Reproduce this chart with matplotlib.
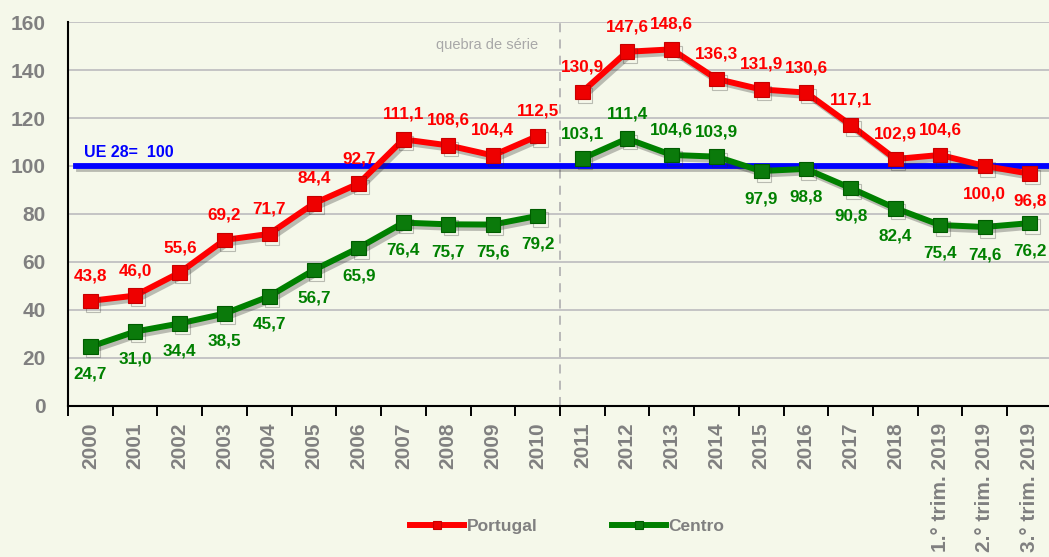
import matplotlib.pyplot as plt
import matplotlib.patheffects as pe
import numpy as np

plt.rcParams['font.family'] = ['Liberation Sans', 'DejaVu Sans']

# <====== data ======>
periods = ['2000', '2001', '2002', '2003', '2004', '2005', '2006', '2007',
           '2008', '2009', '2010', '2011', '2012', '2013', '2014', '2015',
           '2016', '2017', '2018', '1.° trim. 2019', '2.° trim. 2019',
           '3.° trim. 2019']
portugal = [43.8, 46.0, 55.6, 69.2, 71.7, 84.4, 92.7, 111.1, 108.6, 104.4,
            112.5, 130.9, 147.6, 148.6, 136.3, 131.9, 130.6, 117.1, 102.9,
            104.6, 100.0, 96.8]
centro = [24.7, 31.0, 34.4, 38.5, 45.7, 56.7, 65.9, 76.4, 75.7, 75.6,
          79.2, 103.1, 111.4, 104.6, 103.9, 97.9, 98.8, 90.8, 82.4,
          75.4, 74.6, 76.2]
ue28 = 100
break_after = 10  # series break between 2010 and 2011

bg = '#f5f8ea'
grey = '#808080'

fig = plt.figure(figsize=(10.49, 5.57), dpi=100, facecolor=bg)
ax = fig.add_axes([0.0648, 0.2711, 0.938, 0.6894], facecolor=bg)

x = np.arange(len(periods))
shadow = [pe.SimpleLineShadow(offset=(2, -2.5), alpha=0.3, shadow_color='#303030'),
          pe.Normal()]

# <====== reference line ======>
ax.axhline(ue28, xmin=0.008, xmax=1, color='#0000ff', lw=4.2, zorder=3,
           path_effects=shadow)
ax.text(-0.15, ue28 + 2.5, 'UE 28=  %d' % ue28, color='#0000ff',
        fontsize=11.5, fontweight='bold', va='bottom', ha='left')

# <====== series ======>
series = [
    ('Portugal', portugal, '#ff0000', '#ee0000', '#c80000'),
    ('Centro', centro, '#008000', '#0b7a0b', '#005c00'),
]
for name, vals, col, face, edge in series:
    vals = np.array(vals)
    for seg in (slice(0, break_after + 1), slice(break_after + 1, None)):
        ax.plot(x[seg], vals[seg], color=col, lw=4.3, marker='s', ms=10.5,
                mfc=face, mec=edge, mew=0.8, zorder=4, path_effects=shadow,
                label=name if seg.start == 0 else None)
    for i, v in enumerate(vals):
        if name == 'Portugal':
            above = not (i > break_after and v <= ue28)
        else:
            above = v > ue28
        dy = 18 if above else -20
        ax.annotate(('%.1f' % v).replace('.', ','), (x[i], v),
                    xytext=(0, dy), textcoords='offset points',
                    ha='center', va='center', color=col, fontsize=12.3,
                    fontweight='bold', zorder=5, annotation_clip=False)

# <====== series break ======>
ax.axvline(break_after + 0.5, color='#b4b4b4', lw=1.3, ls=(0, (5, 4)), zorder=2)
ax.text(break_after + 0.02, 150.5, 'quebra de série', color='#a8a8a8',
        fontsize=10.5, ha='right', va='center')

# <====== axes ======>
ax.set_xlim(-0.5, len(periods) - 0.5)
ax.set_ylim(0, 160)
ax.set_yticks(range(0, 161, 20))
ax.grid(axis='y', color='#c4c4c4', lw=1.4, zorder=1)
ax.set_axisbelow(True)
ax.set_xticks(np.arange(len(periods) + 1) - 0.5, minor=False)
ax.set_xticklabels([])
ax.set_xticks(x, minor=True)
ax.set_xticklabels(periods, minor=True, rotation=90, va='top', ha='center',
                   fontsize=15, fontweight='bold', color=grey)
ax.tick_params(axis='x', which='major', length=7, width=1.4, direction='out')
ax.tick_params(axis='x', which='minor', length=0, pad=12)
ax.tick_params(axis='y', length=0, pad=16, labelsize=15, labelcolor=grey)
for lbl in ax.get_yticklabels():
    lbl.set_fontweight('bold')
for s in ('top', 'right'):
    ax.spines[s].set_visible(False)
for s in ('left', 'bottom'):
    ax.spines[s].set_linewidth(1.5)
    ax.spines[s].set_color('black')

# <====== legend ======>
leg = fig.legend(loc='center', bbox_to_anchor=(0.541, 0.054), ncol=2,
                 frameon=False, handlelength=3.1, handletextpad=0.15,
                 columnspacing=4.3, prop={'weight': 'bold', 'size': 12.5})
for t in leg.get_texts():
    t.set_color(grey)
for h in leg.legend_handles:
    h.set_markersize(6)
    h.set_path_effects([])

fig.savefig('out.png', dpi=100, facecolor=bg)
